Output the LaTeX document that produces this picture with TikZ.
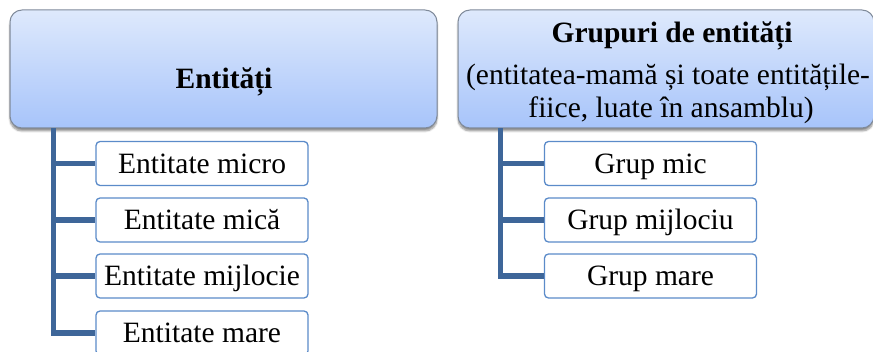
\documentclass[tikz,border=0pt]{standalone}
\usepackage{fontspec}
\setmainfont{Liberation Serif}
\usetikzlibrary{shadows.blur}
\definecolor{headtop}{HTML}{DEE9FC}
\definecolor{headbot}{HTML}{A7C4FA}
\definecolor{headline}{HTML}{7F8A9A}
\definecolor{itemline}{HTML}{5B8BC9}
\definecolor{branchcol}{HTML}{3E6699}
\begin{document}
\begin{tikzpicture}[x=1pt,y=-1pt,
    head/.style ={draw=headline, line width=1pt, rounded corners=12pt, top color=headtop, bottom color=headbot,
      minimum width=#1, minimum height=118pt, inner sep=0pt,
      blur shadow={shadow xshift=0pt, shadow yshift=-3pt, shadow blur steps=6, shadow opacity=45}},
    item/.style ={draw=itemline, line width=1.3pt, rounded corners=4pt, fill=white,
      minimum width=212pt, minimum height=44pt, inner sep=0pt, text height=20pt, text depth=0pt,
      font=\fontsize{29.5}{34}\selectfont},
    txt/.style ={anchor=base, inner sep=0pt, font=\fontsize{29.5}{34}\selectfont},
    branch/.style ={line width=5.5pt, draw=branchcol}]
   \useasboundingbox (0,0) rectangle (873,352);
   % top boxes
   \node[head=427pt] (ent) at (223.5,69) {};
   \node[head=416pt] (grp) at (666,69) {};
   \node[txt, font=\fontsize{29.5}{34}\selectfont\bfseries] (entT) at (224,89) {Entități};
   \node[txt, font=\fontsize{29.5}{34}\selectfont\bfseries] (grpT) at (672,43) {Grupuri de entități};
   \node[txt] (grpA) at (668,85) {(entitatea-mamă și toate entitățile-};
   \node[txt] (grpB) at (671,118) {fiice, luate în ansamblu)};
   % entities
   \node[item] (m1) at (202,163.5) {Entitate micro};
   \node[item] (m2) at (202,220) {Entitate mică};
   \node[item] (m3) at (202,276) {Entitate mijlocie};
   \node[item] (m4) at (202,333) {Entitate mare};
   % groups
   \node[item] (g1) at (650.5,163.5) {Grup mic};
   \node[item] (g2) at (650.5,220) {Grup mijlociu};
   \node[item] (g3) at (650.5,276) {Grup mare};
   \draw[branch] ([xshift=44pt]ent.south west) |- (m1.west);
   \draw[branch] ([xshift=44pt]ent.south west) |- (m2.west);
   \draw[branch] ([xshift=44pt]ent.south west) |- (m3.west);
   \draw[branch] ([xshift=44pt]ent.south west) |- (m4.west);
   \draw[branch] ([xshift=43pt]grp.south west) |- (g1.west);
   \draw[branch] ([xshift=43pt]grp.south west) |- (g2.west);
   \draw[branch] ([xshift=43pt]grp.south west) |- (g3.west);
\end{tikzpicture}
\end{document}
